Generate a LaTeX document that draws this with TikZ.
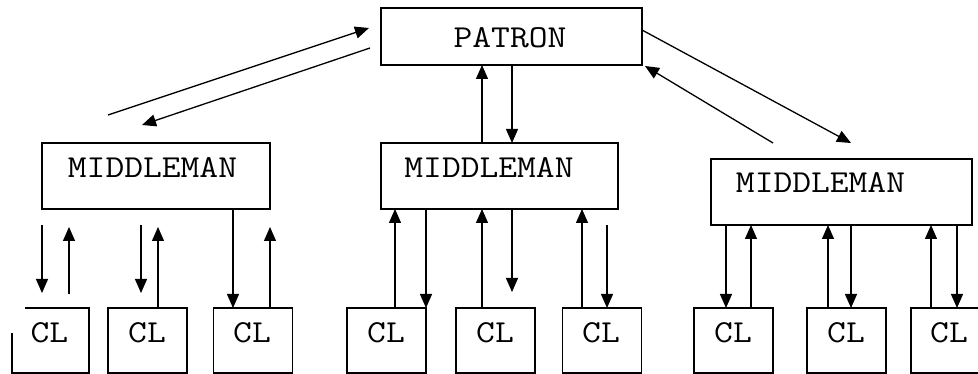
\documentclass[tikz,border=0pt]{standalone}
\usetikzlibrary{arrows.meta,calc}
\newcommand{\wtxt}[1]{\scalebox{1.14}[1]{#1}}
\tikzset{
  box/.style={draw, line width=1.3pt, inner sep=0pt, outer sep=0pt},
  clbox/.style={box, minimum width=79pt, minimum height=65pt},
  txt/.style={font=\ttfamily\fontsize{32}{32}\selectfont, inner sep=0pt},
  arr/.style={line width=1.3pt, -{Triangle[length=14pt,width=12pt]}},
}
\begin{document}
\begin{tikzpicture}[x=1pt,y=-1pt]
\clip (0,0) rectangle (978,374);
\fill[white] (0,0) rectangle (978,374);
% boxes
\node[box, minimum width=261pt, minimum height=57pt] (P) at (511.5,36.5) {};
\node[box, minimum width=228pt, minimum height=66pt] (mL) at (156,176) {};
\node[box, minimum width=237pt, minimum height=66pt] (mC) at (499.5,176) {};
\node[box, minimum width=261pt, minimum height=66pt] (mR) at (841.5,192) {};
% CL boxes
\node[minimum width=77pt, minimum height=65pt, inner sep=0pt, outer sep=0pt] (c1) at (50.5,340.5) {};
\draw[line width=1.3pt] (25,0 |- c1.north) -- (c1.north east) -- (c1.south east) -- (c1.south west) -- (c1.west |- 0,333);
\node[clbox] (c2) at (147.5,340.5) {};
\node[clbox] (c3) at (253,340.5) {};
\node[clbox] (c4) at (386.5,340.5) {};
\node[clbox] (c5) at (495.5,340.5) {};
\node[clbox] (c6) at (602,340.5) {};
\node[clbox] (c7) at (733.5,340.5) {};
\node[clbox] (c8) at (846.5,340.5) {};
\node[clbox] (c9) at (950.5,340.5) {};
% texts
\node[txt] (tP) at (510,37.5) {\wtxt{PATRON}};
\node[txt] (tL) at (152.5,168) {\wtxt{MIDDLEMAN}};
\node[txt] (tC) at (489,168) {\wtxt{MIDDLEMAN}};
\node[txt] (tR) at (820.5,183) {\wtxt{MIDDLEMAN}};
\foreach \n/\x in {1/49.5,2/147,3/252,4/386,5/495,6/601,7/733,8/846,9/949}
  \node[txt] (t\n) at (\x,333) {\wtxt{CL}};
% patron arrows
\draw[arr] (482,0 |- mC.north) -- (482,0 |- P.south);
\draw[arr] (512,0 |- P.south) -- (512,0 |- mC.north);
\coordinate (dl1) at (108,115);
\coordinate (dl2) at (142,125);
\coordinate (dr1) at (851,143);
\coordinate (dr2) at (773,143);
\draw[arr] (dl1) -- ($(P.west)+(-12,-8.5)$);
\draw[arr] ($(P.west)+(-11,11.5)$) -- (dl2);
\draw[arr] ($(P.east)+(0,-6.5)$) -- (dr1);
\draw[arr] (dr2) -- ($(P.south east)+(3,1)$);
% left group
\draw[arr, shorten <=16pt, shorten >=15pt] (42,0 |- mL.south) -- (42,0 |- c1.north);
\draw[arr, shorten <=14pt, shorten >=18pt] (69,0 |- c1.north) -- (69,0 |- mL.south);
\draw[arr, shorten <=16pt, shorten >=15pt] (141,0 |- mL.south) -- (141,0 |- c2.north);
\draw[arr, shorten >=18pt] (158,0 |- c2.north) -- (158,0 |- mL.south);
\draw[arr] (233,0 |- mL.south) -- (233,0 |- c3.north);
\draw[arr, shorten >=18pt] (270,0 |- c3.north) -- (270,0 |- mL.south);
% center group
\draw[arr] (395,0 |- c4.north) -- (395,0 |- mC.south);
\draw[arr] (426,0 |- mC.south) -- (426,0 |- c4.north);
\draw[arr] (482,0 |- c5.north) -- (482,0 |- mC.south);
\draw[arr, shorten >=16pt] (512,0 |- mC.south) -- (512,0 |- c5.north);
\draw[arr] (582,0 |- c6.north) -- (582,0 |- mC.south);
\draw[arr, shorten <=16pt] (607,0 |- mC.south) -- (607,0 |- c6.north);
% right group
\draw[arr] (726,0 |- mR.south) -- (726,0 |- c7.north);
\draw[arr] (751,0 |- c7.north) -- (751,0 |- mR.south);
\draw[arr] (828,0 |- c8.north) -- (828,0 |- mR.south);
\draw[arr] (851,0 |- mR.south) -- (851,0 |- c8.north);
\draw[arr] (931,0 |- c9.north) -- (931,0 |- mR.south);
\draw[arr] (957,0 |- mR.south) -- (957,0 |- c9.north);
\end{tikzpicture}
\end{document}
